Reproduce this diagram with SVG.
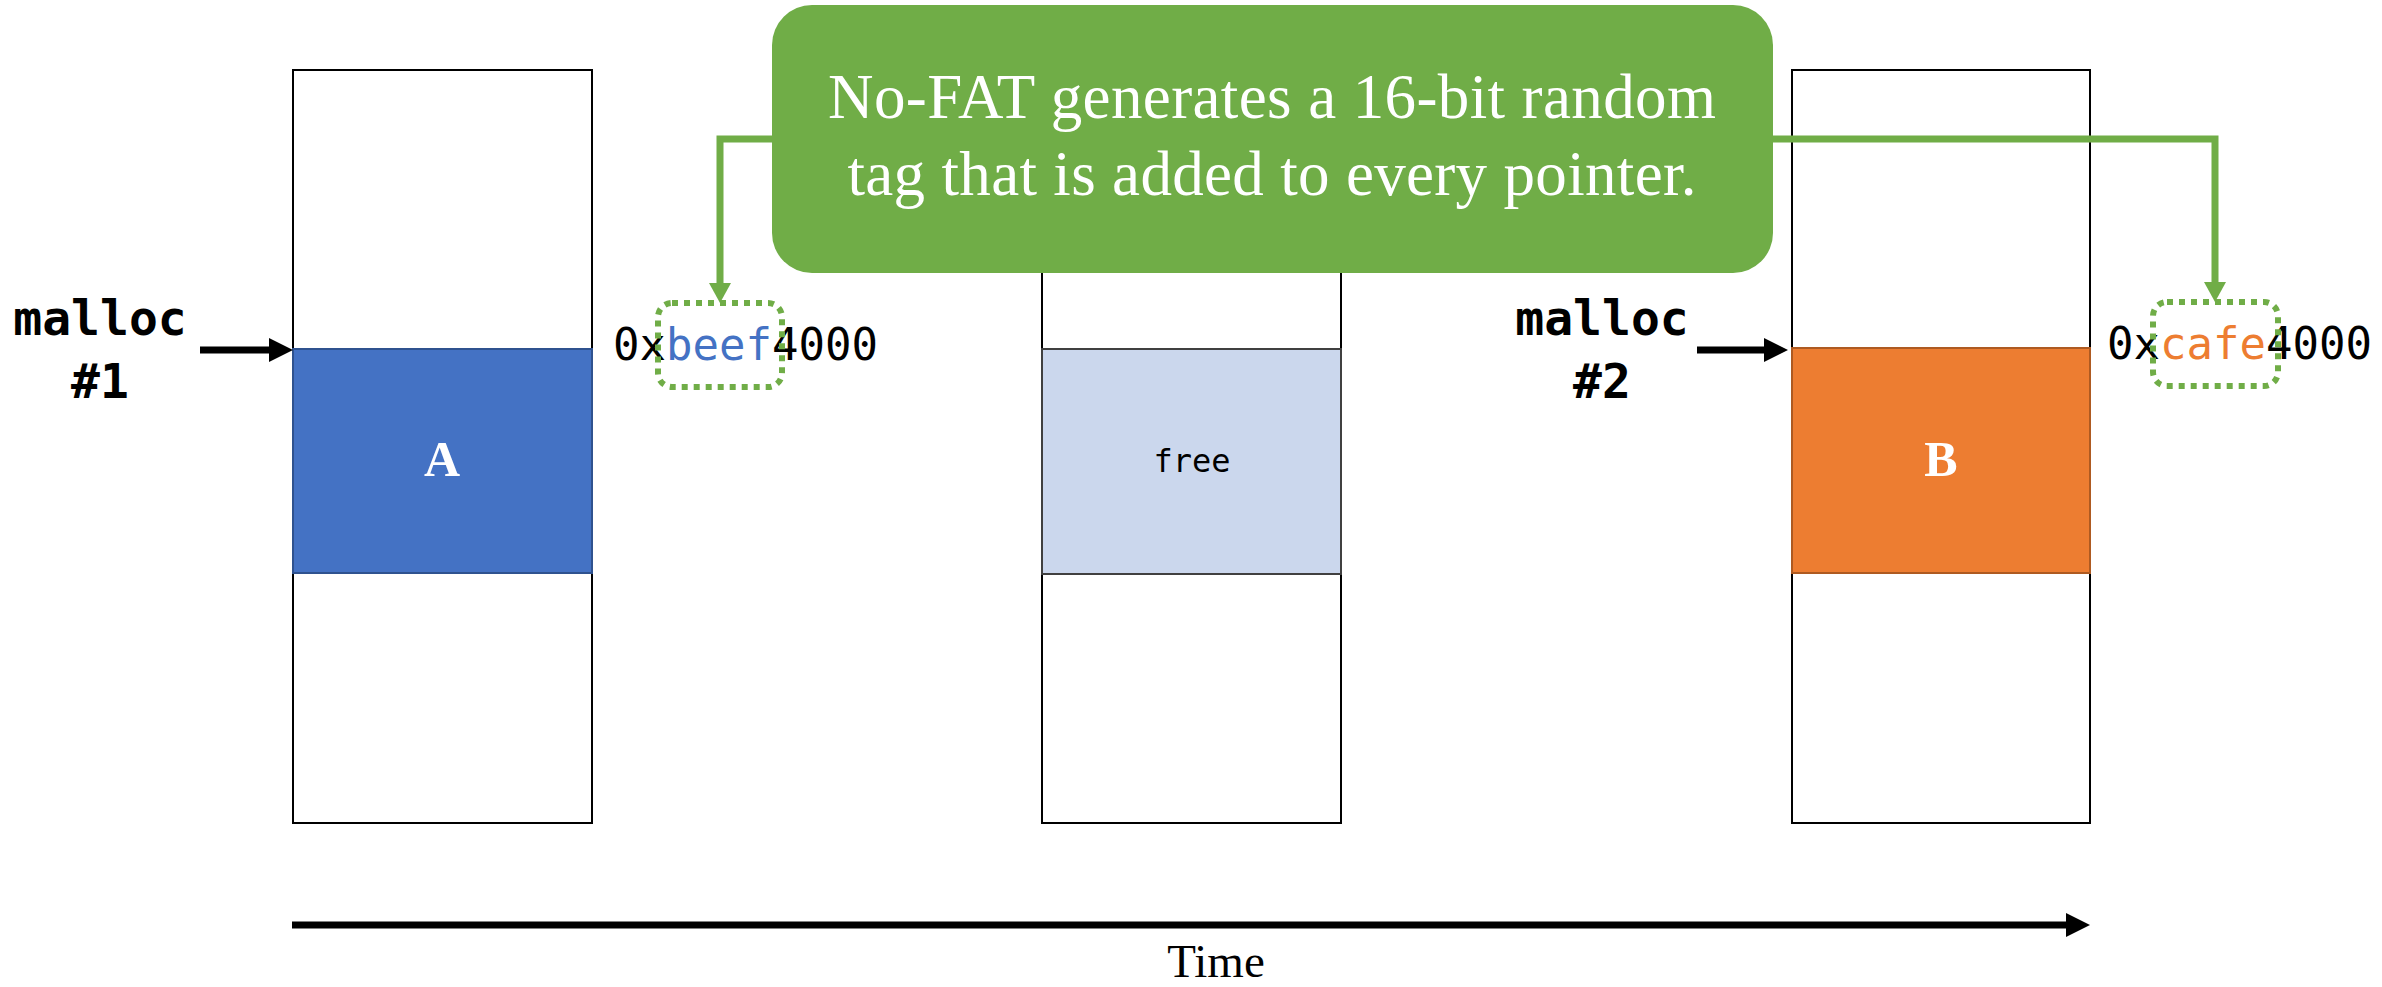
<svg xmlns="http://www.w3.org/2000/svg" width="2382" height="987" viewBox="0 0 2382 987">
  <style>
    .col { fill: #FFFFFF; stroke: #000000; stroke-width: 2; }
    .mono { font-family: "DejaVu Sans Mono", "Liberation Mono", monospace; }
    .serif { font-family: "Liberation Serif", "DejaVu Serif", serif; }
    .label { font-size: 48px; font-weight: bold; fill: #000000; text-anchor: middle; }
    .addr { font-size: 44px; fill: #000000; }
    .blk { font-size: 50px; font-weight: bold; fill: #FFFFFF; text-anchor: middle; }
    .tag { fill: none; stroke: #70AD47; stroke-width: 6; stroke-dasharray: 6 6; }
    .black-arrow { fill: none; stroke: #000000; stroke-width: 7; }
    .green-link { fill: none; stroke: #70AD47; stroke-width: 7; }
  </style>
  <defs>
    <marker id="head-black" markerUnits="userSpaceOnUse" markerWidth="24" markerHeight="24" refX="4" refY="12" orient="auto">
      <path d="M0,0 L24,12 L0,24 Z" fill="#000000"/>
    </marker>
    <marker id="head-green" markerUnits="userSpaceOnUse" markerWidth="20" markerHeight="22" refX="4" refY="11" orient="auto">
      <path d="M0,0 L20,11 L0,22 Z" fill="#70AD47"/>
    </marker>
  </defs>

  <rect width="2382" height="987" fill="#FFFFFF"/>

  <!-- heap snapshot 1: block A allocated -->
  <g id="heap-1">
    <rect class="col" x="293" y="70" width="299" height="753"/>
    <rect x="293" y="349" width="299" height="224" fill="#4472C4" stroke="#2F528F" stroke-width="2"/>
    <text class="serif blk" x="442" y="476">A</text>
  </g>

  <!-- heap snapshot 2: block freed -->
  <g id="heap-2">
    <rect class="col" x="1042" y="70" width="299" height="753" stroke-width="3"/>
    <rect x="1042" y="349" width="299" height="225" fill="#CBD7ED" stroke="#404040" stroke-width="2"/>
    <text class="mono" x="1192" y="472" font-size="32" text-anchor="middle" fill="#000000">free</text>
  </g>

  <!-- heap snapshot 3: block B reuses the slot -->
  <g id="heap-3">
    <rect class="col" x="1792" y="70" width="298" height="753"/>
    <rect x="1792" y="348" width="298" height="225" fill="#ED7D31" stroke="#AE5A21" stroke-width="2"/>
    <text class="serif blk" x="1941" y="476">B</text>
  </g>

  <!-- allocation call labels -->
  <g id="malloc-1">
    <text class="mono label" x="100" y="335">malloc</text>
    <text class="mono label" x="100" y="398">#1</text>
  </g>
  <g id="malloc-2">
    <text class="mono label" x="1602" y="335">malloc</text>
    <text class="mono label" x="1602" y="398">#2</text>
  </g>

  <!-- tagged pointer values -->
  <g id="pointer-1">
    <text class="mono addr" x="613" y="360" textLength="265">0x<tspan fill="#4472C4">beef</tspan>4000</text>
    <rect class="tag" x="658" y="303" width="124" height="84" rx="14" ry="14"/>
  </g>
  <g id="pointer-2">
    <text class="mono addr" x="2107" y="359" textLength="265">0x<tspan fill="#ED7D31">cafe</tspan>4000</text>
    <rect class="tag" x="2153" y="302" width="125" height="84" rx="14" ry="14"/>
  </g>

  <!-- time axis -->
  <g id="time-axis">
    <line class="black-arrow" x1="292" y1="925" x2="2070" y2="925" marker-end="url(#head-black)"/>
    <text class="serif" x="1216" y="977" font-size="47" text-anchor="middle" fill="#000000">Time</text>
  </g>

  <!-- explanatory callout -->
  <g id="callout">
    <rect x="772" y="5" width="1001" height="268" rx="40" ry="40" fill="#70AD47"/>
    <text class="serif" x="1272" y="118" font-size="63" fill="#FFFFFF" text-anchor="middle" textLength="888">No-FAT generates a 16-bit random</text>
    <text class="serif" x="1272" y="195" font-size="63" fill="#FFFFFF" text-anchor="middle" textLength="849">tag that is added to every pointer.</text>
  </g>

  <!-- connectors -->
  <g id="connectors">
    <path class="black-arrow" d="M200,350 L273,350" marker-end="url(#head-black)"/>
    <path class="black-arrow" d="M1697,350 L1768,350" marker-end="url(#head-black)"/>
    <path class="green-link" d="M772,139 L720,139 L720,287" marker-end="url(#head-green)"/>
    <path class="green-link" d="M1773,139 L2215,139 L2215,286" marker-end="url(#head-green)"/>
  </g>
</svg>
